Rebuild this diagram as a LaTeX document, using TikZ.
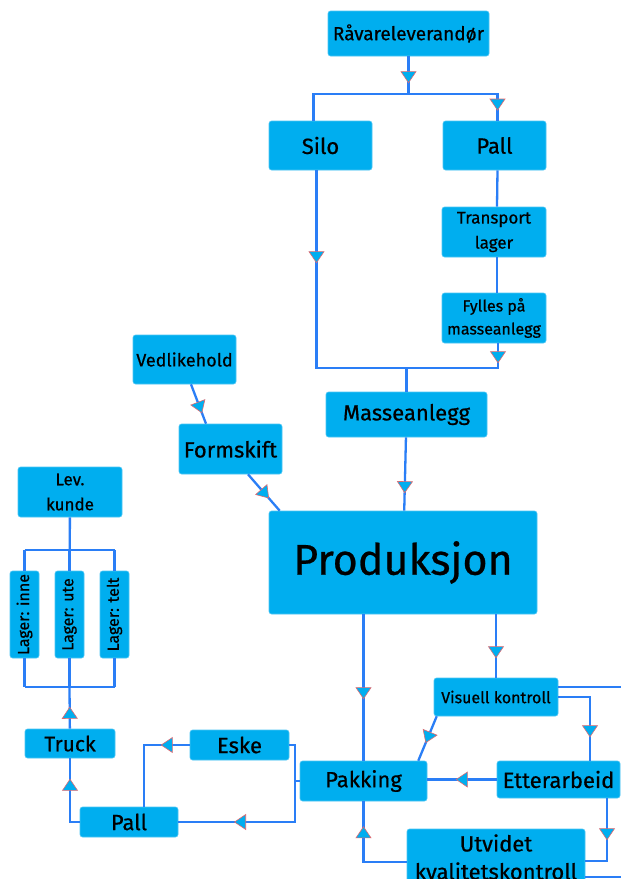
\documentclass[tikz,border=0pt]{standalone}
\usepackage{fontspec}
\setmainfont{Fira Sans}[FakeBold=0.6]
\usetikzlibrary{arrows.meta,decorations.markings,calc}
\definecolor{boksblaa}{RGB}{0,174,239}
\definecolor{linjeblaa}{RGB}{42,126,246}
\definecolor{spissrod}{RGB}{226,104,110}
\newcommand\skrift[2]{\fontsize{#1}{#2}\selectfont}

\begin{document}
\begin{tikzpicture}[x=1pt, y=-1pt,
  boks/.style={fill=boksblaa, draw=boksblaa!70!white, line width=0.6pt,
    rounded corners=2.5pt, inner sep=0pt, align=center, text=black},
  linje/.style={draw=linjeblaa, line width=2.3pt},
  pilspiss/.tip={Triangle[width=16pt, length=12pt, color=spissrod, fill=boksblaa, line width=0.6pt]},
  pil/.style={postaction={decorate, decoration={markings,
    mark=at position #1pt with {\arrow{pilspiss}}}}}]

  % ramme
  \fill[white] (0,0) rectangle (621,879);
  \useasboundingbox (0,0) rectangle (621,879);
  \clip (0,0) rectangle (621,879);

  % raavarer og masse
  \node[boks, minimum width=161, minimum height=45, font=\skrift{19}{23}] (raav) at (408.5,33.5) {Råvareleverandør};
  \node[boks, minimum width=103, minimum height=49, font=\skrift{22}{26}] (silo) at (320.5,145.5) {Silo};
  \node[boks, minimum width=103, minimum height=49, font=\skrift{22}{26}] (pallen) at (494.5,145.5) {Pall};
  \node[boks, minimum width=104, minimum height=50, font=\skrift{17}{25}] (transport) at (494,232) {Transport\\lager};
  \node[boks, minimum width=104, minimum height=50, font=\skrift{16}{23}] (fylles) at (494,318) {Fylles på\\masseanlegg};
  \node[boks, minimum width=161, minimum height=45, font=\skrift{22}{26}] (masse) at (406.5,414.5) {Masseanlegg};

  % produksjon
  \node[boks, minimum width=103, minimum height=49, font=\skrift{18}{22}] (vedlike) at (184.5,359.5) {Vedlikehold};
  \node[boks, minimum width=103, minimum height=50, font=\skrift{22}{26}] (formskift) at (230.5,449) {Formskift};
  \node[boks, minimum width=268, minimum height=103, font=\skrift{43}{50}] (prod) at (403,562.5) {Produksjon};

  % kontroll og pakking
  \node[boks, minimum width=124, minimum height=38, font=\skrift{16}{19}] (visuell) at (496,697) {Visuell kontroll};
  \node[boks, minimum width=123, minimum height=37, font=\skrift{22}{26}] (etter) at (558.5,779.5) {Etterarbeid};
  \node[boks, minimum width=178, minimum height=56, font=\skrift{22}{28}] (utvidet) at (496,857) {Utvidet\\kvalitetskontroll};
  \node[boks, minimum width=127, minimum height=40, font=\skrift{22}{26}] (pakking) at (363.5,781) {Pakking};
  \node[boks, minimum width=99, minimum height=30, font=\skrift{22}{26}] (eske) at (239.5,745) {Eske};
  \node[boks, minimum width=98, minimum height=30, font=\skrift{22}{26}] (pall) at (129,822) {Pall};

  % lager og kunde
  \node[boks, minimum width=90, minimum height=29, font=\skrift{21}{25}] (truck) at (70,743.5) {Truck};
  \foreach \navn/\x/\sted in {lagerinne/24.5/inne, lagerute/69.5/ute, lagertelt/114.5/telt}{
    \node[boks, rotate=90, minimum width=87, minimum height=29, font=\skrift{16}{19}] (\navn) at (\x,614.5) {Lager: \sted};
  }
  \node[boks, minimum width=104, minimum height=50, font=\skrift{17}{25}] (levkunde) at (70,492) {Lev.\\kunde};

  % knutepunkt
  \coordinate (delt) at (408.5,94);
  \coordinate (samle) at (406.5,368);
  \coordinate (gren) at (295,781);
  \coordinate (lagertopp) at (69.5,550);
  \coordinate (lagerbunn) at (69.5,687);
  \coordinate (utkant1) at (640,687);
  \coordinate (utkant2) at (640,877);

  % linjer oppe
  \draw[linje, pil=27] (raav) -- (delt);
  \draw[linje] (delt) -| ([xshift=-7]silo.north);
  \draw[linje, pil=-10] (delt) -| ([xshift=3]pallen.north);
  \draw[linje] ([xshift=3]pallen.south) -- ([xshift=3]transport.north);
  \draw[linje] ([xshift=3]transport.south) -- ([xshift=3]fylles.north);
  \draw[linje, pil=20] ([xshift=4]fylles.south) |- (samle);
  \draw[linje, pil=93] ([xshift=-4]silo.south) |- (samle);
  \draw[linje] (samle) -- (masse);
  \draw[linje, pil=56] (masse) -- (prod);

  % vedlikehold
  \draw[linje, pil=31] ([xshift=6.5]vedlike.south) -- ([xshift=-24.5]formskift.north);
  \draw[linje, pil=32] ([xshift=17.5]formskift.south) -- ([xshift=11]prod.north west);

  % fra produksjon
  \draw[linje, pil=85] (prod.south -| pakking) -- (pakking);
  \draw[linje, pil=44] (prod.south -| visuell) -- (visuell);
  \draw[linje] ([yshift=10]visuell.east) -- (utkant1);
  \draw[linje, pil=72] (visuell.east) -| ([xshift=31.5]etter.north);
  \draw[linje, pil=29] ([xshift=3]visuell.south west) -- ([xshift=-9]pakking.north east);
  \draw[linje, pil=41] (etter.west) -- (etter.west -| pakking.east);
  \draw[linje, pil=42] ([xshift=48.5]etter.south) |- ([yshift=-4]utvidet.east);
  \draw[linje, pil=79] ([yshift=-5]utvidet.west) -| (pakking);
  \draw[linje] ([yshift=-20]utvidet.east) -- (utkant2);

  % pakking til pall og eske
  \draw[linje] (pakking) -- (gren);
  \draw[linje] (gren) |- (eske);
  \draw[linje, pil=102] (gren) |- (pall);
  \draw[linje, pil=29] (eske.west) -| ([xshift=15]pall.north);

  % truck og lager
  \draw[linje, pil=53] (pall.west) -| (truck);
  \draw[linje, pil=22] (truck) -- (lagerbunn);
  \draw[linje] (levkunde) -- (lagerute);
  \draw[linje] (lagerinne |- lagertopp) -- (lagertelt |- lagertopp);
  \draw[linje] (lagerinne |- lagerbunn) -- (lagertelt |- lagerbunn);
  \foreach \navn in {lagerinne,lagerute,lagertelt}{
    \draw[linje] (\navn) -- (\navn |- lagertopp);
    \draw[linje] (\navn) -- (\navn |- lagerbunn);
  }
\end{tikzpicture}
\end{document}
